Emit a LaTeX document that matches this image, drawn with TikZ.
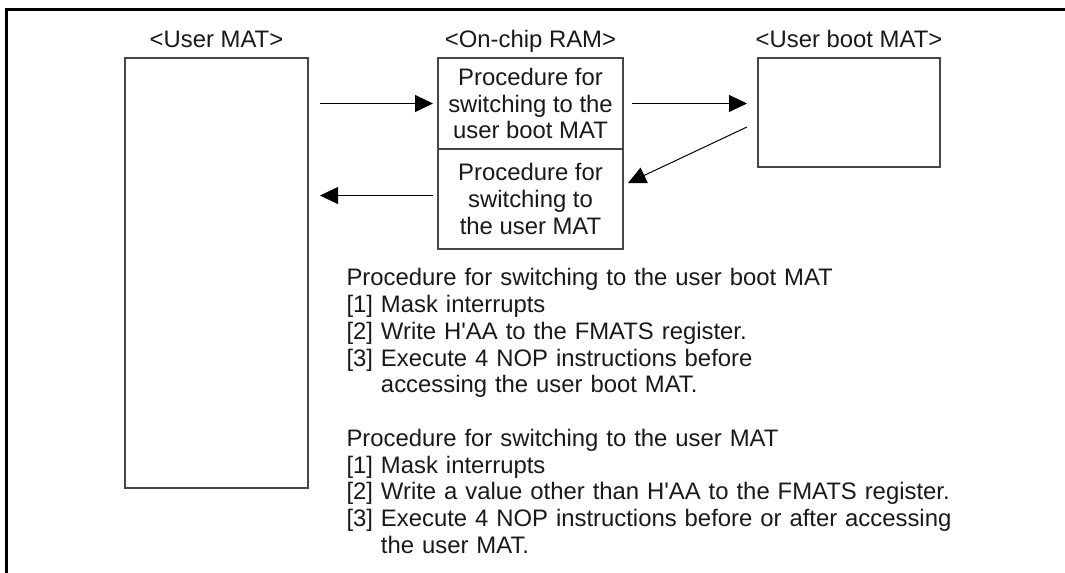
\documentclass[tikz,border=0pt]{standalone}
\usepackage{fontspec}
\setmainfont{Liberation Sans}[Ligatures=TeXOff]
\usetikzlibrary{arrows.meta,positioning}

\begin{document}
\begin{tikzpicture}[x=0.75pt,y=-0.75pt,line width=0.75pt,
  font=\fontsize{17.9}{20.06}\selectfont,
  matbox/.style={draw=black!72,line width=1.1pt,inner sep=0pt,outer sep=0pt,align=center,text=black!90},
  matlbl/.style={anchor=base,inner sep=0pt,text=black!90},
  proctext/.style={anchor=base west,inner sep=0pt,text width=540pt,align=left,text=black!90},
  flow/.style={-{Triangle[length=13.5pt,width=12.75pt]},line width=0.75pt}]
\path[use as bounding box] (0,0) rectangle (1065,573);
% frame
\draw[line width=2.25pt] (6.5,573) -- (6.5,9.7) -- (1065,9.7);
% memory areas
\node[matbox,anchor=north west,minimum width=137.25pt,minimum height=322.5pt] (usermat) at (125,58) {};
\node[matbox,anchor=north west,minimum width=138.75pt,minimum height=68.25pt] (ramtop) at (438,58) {Procedure for\\switching to the\\user boot MAT};
\node[matbox,below=0pt of ramtop,minimum width=138.75pt,minimum height=75pt] (rambot) {Procedure for\\switching to\\the user MAT};
\node[matbox,anchor=north west,minimum width=136.5pt,minimum height=81.75pt] (bootmat) at (758,58) {};
% labels
\node[matlbl] (usermatlbl) at ([yshift=7.5pt]usermat.north) {<User MAT>};
\node[matlbl] (ramlbl) at ([yshift=7.5pt]ramtop.north) {<On-chip RAM>};
\node[matlbl] (bootmatlbl) at ([yshift=7.5pt]bootmat.north) {<User boot MAT>};
% switching flow
\draw[flow,shorten <=9pt,shorten >=3.75pt] (usermat.east |- ramtop.west) -- (ramtop.west);
\draw[flow,shorten <=6.75pt,shorten >=8.25pt] (ramtop.east) -- (ramtop.east -| bootmat.west);
\draw[flow,shorten <=9.15pt,shorten >=4.1pt] ([yshift=-6.98pt]bootmat.west) -- ([yshift=10.2pt]rambot.east);
\draw[flow,shorten <=3.75pt,shorten >=9pt] ([yshift=2.6pt]rambot.west) -- ([yshift=2.6pt]rambot.west -| usermat.east);
% procedures
\node[proctext] (bootproc) at (346,286) {Procedure for switching to the user boot MAT\\{}[1] Mask interrupts\\{}[2] Write H'AA to the FMATS register.\\{}[3] Execute 4 NOP instructions before\\\phantom{[3] }accessing the user boot MAT.};
\node[proctext] (userproc) at (346,446.5) {Procedure for switching to the user MAT\\{}[1] Mask interrupts\\{}[2] Write a value other than H'AA to the FMATS register.\\{}[3] Execute 4 NOP instructions before or after accessing\\\phantom{[3] }the user MAT.};
\end{tikzpicture}
\end{document}
